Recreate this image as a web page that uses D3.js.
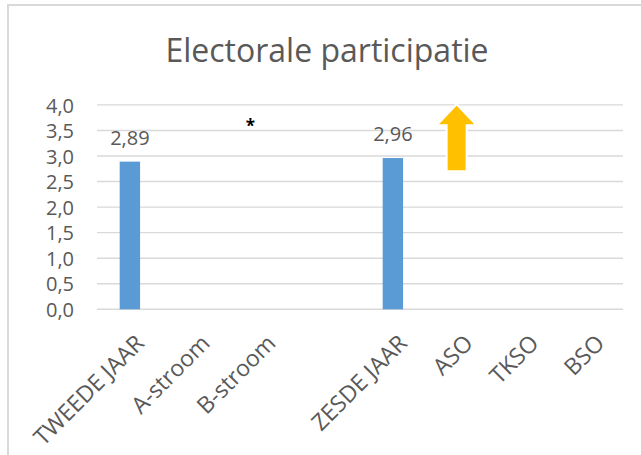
<!DOCTYPE html>
<html>
<head>
<meta charset="utf-8">
<script src="https://cdn.jsdelivr.net/npm/d3@7"></script>
<style>
  body { margin: 0; background: #fff; }
  text { font-family: "Open Sans", sans-serif; fill: #595959; }
</style>
</head>
<body>
<script>
// data
var categories = ["TWEEDE JAAR", "A-stroom", "B-stroom", "", "ZESDE JAAR", "ASO", "TKSO", "BSO"];
var values = [2.89, null, null, null, 2.96, null, null, null];
var yTicks = [0, 0.5, 1, 1.5, 2, 2.5, 3, 3.5, 4];
var notes = [{ cat: "B-stroom", text: "*" }];
var arrows = [{ cat: "ASO" }];

var width = 641, height = 455;
var nl = d3.formatLocale({ decimal: ",", thousands: ".", grouping: [3], currency: ["€", ""] });
var fmt1 = nl.format(".1f"), fmt2 = nl.format(".2f");

var svg = d3.select("body").append("svg")
  .attr("width", width).attr("height", height);

// chart area border (only left and top visible)
svg.append("rect").attr("x", 8).attr("y", 5).attr("width", 700).attr("height", 600)
  .attr("fill", "#fff").attr("stroke", "#d9d9d9").attr("stroke-width", 2);

var keys = categories.map(function (c, i) { return i; });
var x = d3.scaleBand().domain(keys).range([97, 623]).paddingInner(0.69).paddingOuter(0.345);
var y = d3.scaleLinear().domain([0, 4]).range([309.3, 104.9]);

svg.append("text").attr("x", 327).attr("y", 62).attr("text-anchor", "middle")
  .style("font-size", "32px").text("Electorale participatie");

// gridlines
svg.append("g").selectAll("line").data(yTicks).enter().append("line")
  .attr("x1", 97).attr("x2", 623)
  .attr("y1", function (d) { return y(d); }).attr("y2", function (d) { return y(d); })
  .attr("stroke", "#d9d9d9").attr("stroke-width", 1.4);

// y axis labels
var yAxis = d3.axisLeft(y).tickValues(yTicks).tickFormat(fmt1).tickSize(0).tickPadding(0);
var gy = svg.append("g").attr("transform", "translate(74,0)").call(yAxis);
gy.select(".domain").remove();
gy.selectAll("text").style("font-size", "20px").attr("fill", "#595959")
  .style("font-family", "'Open Sans', sans-serif").attr("dy", "0.36em");

// bars
var data = categories.map(function (c, i) { return { i: i, cat: c, v: values[i] }; })
  .filter(function (d) { return d.v != null; });
svg.append("g").selectAll("rect").data(data).enter().append("rect")
  .attr("x", function (d) { return x(d.i); })
  .attr("width", x.bandwidth())
  .attr("y", function (d) { return y(d.v); })
  .attr("height", function (d) { return y(0) - y(d.v); })
  .attr("fill", "#5b9bd5");

svg.append("g").selectAll("text").data(data).enter().append("text")
  .attr("x", function (d) { return x(d.i) + x.bandwidth() / 2; })
  .attr("y", function (d) { return y(d.v) - 17; })
  .attr("text-anchor", "middle").style("font-size", "20px")
  .text(function (d) { return fmt2(d.v); });

// category labels
svg.append("g").selectAll("text").data(categories).enter().append("text")
  .attr("transform", function (d, i) {
    return "translate(" + (x(i) + x.bandwidth() / 2 + 10) + ",339) rotate(-45)";
  })
  .attr("text-anchor", "end").attr("dy", "0.35em").style("font-size", "23px")
  .text(function (d) { return d; });

// asterisk note
svg.append("g").selectAll("text").data(notes).enter().append("text")
  .attr("x", function (d) { return x(categories.indexOf(d.cat)) + x.bandwidth() / 2 - 11; })
  .attr("y", y(3.5) + 2).attr("text-anchor", "middle")
  .style("font-size", "17px").style("font-weight", "bold")
  .style("fill", "#000").text(function (d) { return d.text; });

// up arrow
svg.append("g").selectAll("path").data(arrows).enter().append("path")
  .attr("d", function (d) {
    var cx = x(categories.indexOf(d.cat)) + x.bandwidth() / 2 - 2;
    var tip = y(4) - 0.6, base = y(3.6), bottom = y(2.7);
    return "M" + cx + "," + tip + "L" + (cx + 20) + "," + base + "L" + (cx + 10) + "," + base +
      "L" + (cx + 10) + "," + bottom + "L" + (cx - 10) + "," + bottom + "L" + (cx - 10) + "," + base +
      "L" + (cx - 20) + "," + base + "Z";
  })
  .attr("fill", "#ffc000").attr("stroke", "#fff").attr("stroke-width", 2);
</script>
</body>
</html>
